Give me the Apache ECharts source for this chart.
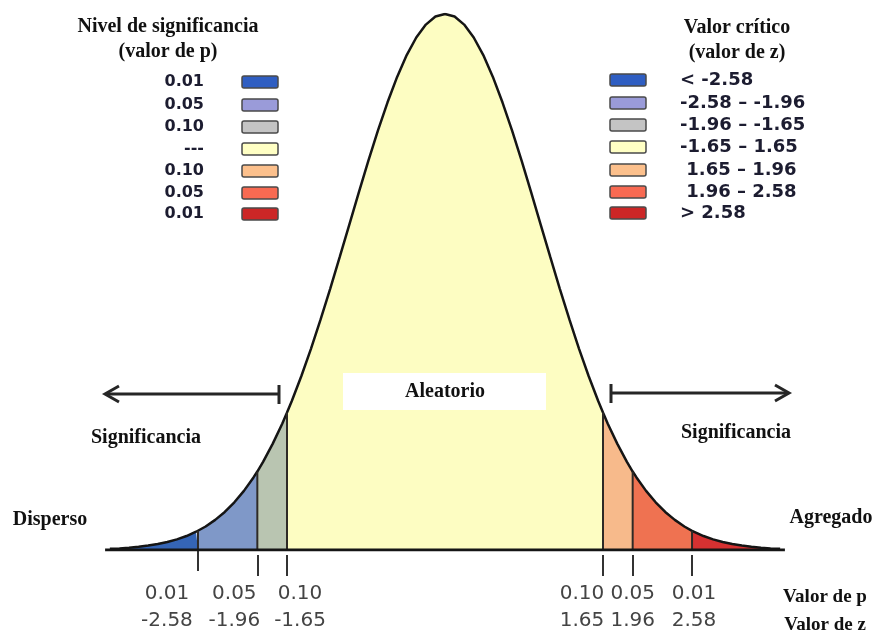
<!DOCTYPE html>
<html><head><meta charset="utf-8">
<script src="https://cdn.jsdelivr.net/npm/echarts@6/dist/echarts.min.js"></script>
<style>html,body{margin:0;padding:0;background:#fff}#c{width:878px;height:633px}</style>
</head><body><div id="c"></div>
<script>
// Curve (z value, height of the bell)
const curveZ = [-3.5,-3.4,-3.3,-3.2,-3.1,-3.0,-2.9,-2.8,-2.7,-2.6,-2.58,-2.5,-2.4,-2.3,-2.2,-2.1,-2.0,-1.96,-1.9,-1.8,-1.7,-1.65,-1.6,-1.5,-1.4,-1.3,-1.2,-1.1,-1.0,-0.9,-0.8,-0.7,-0.6,-0.5,-0.4,-0.3,-0.2,-0.1,0,
  0.1,0.2,0.3,0.4,0.5,0.6,0.7,0.8,0.9,1.0,1.1,1.2,1.3,1.4,1.5,1.6,1.65,1.7,1.8,1.9,1.96,2.0,2.1,2.2,2.3,2.4,2.5,2.58,2.6,2.7,2.8,2.9,3.0,3.1,3.2,3.3,3.4,3.5];
const curveDensity = [0.0009,0.0012,0.0017,0.0024,0.0033,0.0044,0.0060,0.0079,0.0104,0.0136,0.0143,0.0175,0.0224,0.0283,0.0355,0.0440,0.0540,0.0584,0.0656,0.0790,0.0940,0.1023,0.1109,0.1295,0.1497,0.1714,0.1942,0.2179,0.2420,0.2661,0.2897,0.3123,0.3332,0.3521,0.3683,0.3814,0.3910,0.3970,0.3989,
  0.3970,0.3910,0.3814,0.3683,0.3521,0.3332,0.3123,0.2897,0.2661,0.2420,0.2179,0.1942,0.1714,0.1497,0.1295,0.1109,0.1023,0.0940,0.0790,0.0656,0.0584,0.0540,0.0440,0.0355,0.0283,0.0224,0.0175,0.0143,0.0136,0.0104,0.0079,0.0060,0.0044,0.0033,0.0024,0.0017,0.0012,0.0009];

const regionBounds = [[-3.5,-2.58],[-2.58,-1.96],[-1.96,-1.65],[-1.65,1.65],[1.65,1.96],[1.96,2.58],[2.58,3.5]];
const regionColors = ['#3565b6','#7f98c8','#b9c5b1','#fdfdc2','#f7ba8b','#ef7251','#d63131'];

const tickZ = [-2.58,-1.96,-1.65,1.65,1.96,2.58];
const tickP = ['0.01','0.05','0.10','0.10','0.05','0.01'];
const tickZLabels = ['-2.58','-1.96','-1.65','1.65','1.96','2.58'];
const labelShift = [-31,-23,13,-21,0,2];

const legendP = ['0.01','0.05','0.10','---','0.10','0.05','0.01'];
const legendZ = ['< -2.58','-2.58 \u2013 -1.96','-1.96 \u2013 -1.65','-1.65 \u2013 1.65',' 1.65 \u2013 1.96',' 1.96 \u2013 2.58','> 2.58'];
const legendColors = ['#2f5ec2','#9a9bd9','#c4c4c4','#ffffc4','#fcc08c','#f86a52','#cc2626'];

const chart = echarts.init(document.getElementById('c'), null, {renderer:'canvas'});
const pts = curveZ.map((z,i)=>[z,curveDensity[i]]);
const series = [];
regionBounds.forEach((b,i)=>{
  series.push({type:'line', data: pts.filter(p=>p[0]>=b[0]-1e-9 && p[0]<=b[1]+1e-9),
    showSymbol:false, silent:true, z:1, lineStyle:{width:0, opacity:0},
    areaStyle:{color:regionColors[i], opacity:1}});
});
series.push({type:'line', data:pts, showSymbol:false, silent:true, z:3, smooth:false,
  lineStyle:{color:'#151515', width:2.5}});
tickZ.forEach(t=>{
  const idx = curveZ.indexOf(t);
  series.push({type:'line', data:[[t,0],[t,curveDensity[idx]]], showSymbol:false, silent:true, z:4,
    lineStyle:{color:'#2e2a26', width:2}});
});
series.push({type:'line', data:[[-3.55,0],[3.55,0]], showSymbol:false, silent:true, z:5,
  lineStyle:{color:'#151515', width:3}});

// one axis per tick so that shifted labels never hide each other
const xAxes = tickZ.map((t,i)=>{
  const s = labelShift[i];
  return {type:'value', min:-4, max:4, offset:5, position:'bottom',
    axisLine:{show:false}, splitLine:{show:false},
    axisTick:{show:true, length:21, customValues:[t], lineStyle:{color:'#333', width:2}},
    axisLabel:{show:true, customValues:[t], margin:25, showMinLabel:true, showMaxLabel:true,
      rich:{a:{fontFamily:'DejaVu Sans', fontSize:20, color:'#444', lineHeight:27,
        padding: s>=0 ? [0,0,0,2*s] : [0,-2*s,0,0]}},
      formatter:()=> '{a|'+tickP[i]+'}\n{a|'+tickZLabels[i]+'}'}};
});

const serif = 'Liberation Serif';
const graphic = [];
function txt(x,y,text,opts){
  graphic.push(Object.assign({type:'text', x, y, style:Object.assign({text, fill:'#111',
    font:'bold 20px "'+serif+'"', textAlign:'center', textVerticalAlign:'middle'}, opts||{})}));
}
// Legend titles
txt(168,27,'Nivel de significancia');
txt(168,52,'(valor de p)');
txt(737,28,'Valor cr\u00edtico');
txt(737,53,'(valor de z)');
const legY = [82,105,127,149,171,193,214];
legendP.forEach((t,i)=>{
  txt(204,legY[i],t,{textAlign:'right', font:'bold 16px "DejaVu Sans"', fill:'#1c1c30'});
  graphic.push({type:'rect', shape:{x:242,y:legY[i]-6,width:36,height:12,r:2},
    style:{fill:legendColors[i], stroke:'#4a4a4a', lineWidth:1.5}});
});
const legY2 = [80,103,125,147,170,192,213];
legendZ.forEach((t,i)=>{
  graphic.push({type:'rect', shape:{x:610,y:legY2[i]-6,width:36,height:12,r:2},
    style:{fill:legendColors[i], stroke:'#4a4a4a', lineWidth:1.5}});
  txt(680,legY2[i],t,{textAlign:'left', font:'bold 18px "DejaVu Sans"', fill:'#1c1c30'});
});
// Annotations
graphic.push({type:'rect', shape:{x:343,y:373,width:203,height:37}, style:{fill:'#fff'}, z:10});
txt(445,392,'Aleatorio');
graphic[graphic.length-1].z = 11;
txt(146,438,'Significancia');
txt(736,433,'Significancia');
txt(50,520,'Disperso');
txt(831,518,'Agregado');
txt(825,597,'Valor de p',{font:'bold 19px "'+serif+'"'});
txt(825,625,'Valor de z',{font:'bold 19px "'+serif+'"'});
// arrows
const ac = '#262626';
graphic.push({type:'line', shape:{x1:106,y1:394,x2:279,y2:394}, style:{stroke:ac, lineWidth:3}});
graphic.push({type:'line', shape:{x1:279,y1:385,x2:279,y2:404}, style:{stroke:ac, lineWidth:3}});
graphic.push({type:'polyline', shape:{points:[[119,386],[105,394],[119,402]]}, style:{stroke:ac, lineWidth:3, fill:null}});
graphic.push({type:'line', shape:{x1:611,y1:393,x2:788,y2:393}, style:{stroke:ac, lineWidth:3}});
graphic.push({type:'line', shape:{x1:611,y1:384,x2:611,y2:403}, style:{stroke:ac, lineWidth:3}});
graphic.push({type:'polyline', shape:{points:[[775,385],[789,393],[775,401]]}, style:{stroke:ac, lineWidth:3, fill:null}});

chart.setOption({
  animation:false,
  backgroundColor:'#fff',
  grid:{left:62, right:50, top:14, bottom:83, containLabel:false},
  xAxis: xAxes,
  yAxis:{type:'value', min:0, max:0.3989, show:false},
  series, graphic
});
</script></body></html>
